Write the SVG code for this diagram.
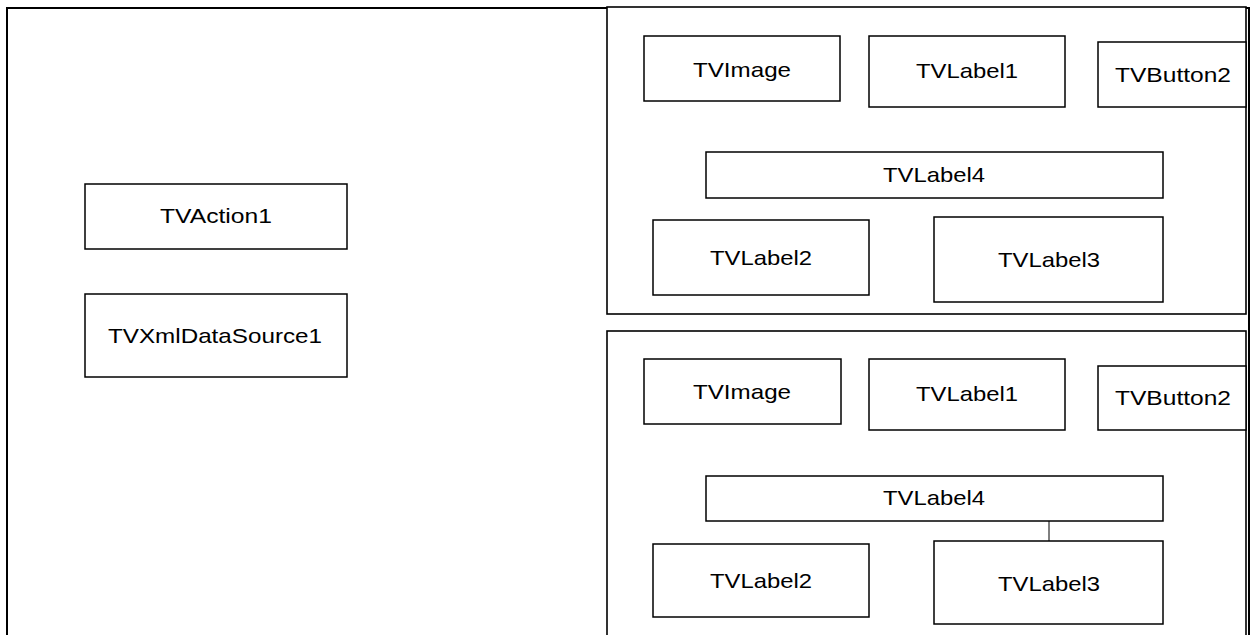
<svg xmlns="http://www.w3.org/2000/svg" width="1250" height="635" viewBox="0 0 1250 635">
  <style>
    .frame { fill: none; stroke: #000; stroke-width: 2; }
    .panel { fill: #fff; stroke: #000; stroke-width: 1.6; }
    .box { fill: #fff; stroke: #000; stroke-width: 1.5; }
    .lbl { font-family: "Liberation Sans", Arial, sans-serif; font-size: 21px; fill: #000; text-anchor: middle; }
    .link { stroke: #000; stroke-width: 1; fill: none; }
  </style>
  <rect width="1250" height="635" fill="#fff"/>

  <!-- form outline -->
  <rect id="form" class="frame" x="7" y="8" width="1242" height="640"/>

  <!-- non-visual components -->
  <g id="tvaction1">
    <rect class="box" x="85" y="184" width="262" height="65"/>
    <text class="lbl" x="216" y="223" textLength="112" lengthAdjust="spacingAndGlyphs">TVAction1</text>
  </g>
  <g id="tvxmldatasource1">
    <rect class="box" x="85" y="294" width="262" height="83"/>
    <text class="lbl" x="215" y="343" textLength="214" lengthAdjust="spacingAndGlyphs">TVXmlDataSource1</text>
  </g>

  <!-- first list item panel -->
  <g id="item1">
    <rect class="panel" x="607" y="7" width="639" height="307"/>
    <g id="item1-image">
      <rect class="box" x="644" y="36" width="196" height="65"/>
      <text class="lbl" x="742" y="77" textLength="98" lengthAdjust="spacingAndGlyphs">TVImage</text>
    </g>
    <g id="item1-label1">
      <rect class="box" x="869" y="36" width="196" height="71"/>
      <text class="lbl" x="967" y="78" textLength="102" lengthAdjust="spacingAndGlyphs">TVLabel1</text>
    </g>
    <g id="item1-button2">
      <rect class="box" x="1098" y="42" width="148" height="65"/>
      <text class="lbl" x="1173" y="82" textLength="116" lengthAdjust="spacingAndGlyphs">TVButton2</text>
    </g>
    <g id="item1-label4">
      <rect class="box" x="706" y="152" width="457" height="46"/>
      <text class="lbl" x="934" y="182" textLength="102" lengthAdjust="spacingAndGlyphs">TVLabel4</text>
    </g>
    <g id="item1-label2">
      <rect class="box" x="653" y="220" width="216" height="75"/>
      <text class="lbl" x="761" y="265" textLength="102" lengthAdjust="spacingAndGlyphs">TVLabel2</text>
    </g>
    <g id="item1-label3">
      <rect class="box" x="934" y="217" width="229" height="85"/>
      <text class="lbl" x="1049" y="267" textLength="102" lengthAdjust="spacingAndGlyphs">TVLabel3</text>
    </g>
  </g>

  <!-- second list item panel -->
  <g id="item2">
    <rect class="panel" x="607" y="331" width="639" height="320"/>
    <g id="item2-image">
      <rect class="box" x="644" y="359" width="197" height="65"/>
      <text class="lbl" x="742" y="399" textLength="98" lengthAdjust="spacingAndGlyphs">TVImage</text>
    </g>
    <g id="item2-label1">
      <rect class="box" x="869" y="359" width="196" height="71"/>
      <text class="lbl" x="967" y="401" textLength="102" lengthAdjust="spacingAndGlyphs">TVLabel1</text>
    </g>
    <g id="item2-button2">
      <rect class="box" x="1098" y="366" width="148" height="64"/>
      <text class="lbl" x="1173" y="405" textLength="116" lengthAdjust="spacingAndGlyphs">TVButton2</text>
    </g>
    <g id="item2-label4">
      <rect class="box" x="706" y="476" width="457" height="45"/>
      <text class="lbl" x="934" y="505" textLength="102" lengthAdjust="spacingAndGlyphs">TVLabel4</text>
    </g>
    <g id="item2-label2">
      <rect class="box" x="653" y="544" width="216" height="73"/>
      <text class="lbl" x="761" y="588" textLength="102" lengthAdjust="spacingAndGlyphs">TVLabel2</text>
    </g>
    <g id="item2-label3">
      <rect class="box" x="934" y="541" width="229" height="83"/>
      <text class="lbl" x="1049" y="591" textLength="102" lengthAdjust="spacingAndGlyphs">TVLabel3</text>
    </g>
  </g>

  <!-- connectors -->
  <g id="connectors">
    <line class="link" x1="1049" y1="521" x2="1049" y2="541"/>
  </g>
</svg>
